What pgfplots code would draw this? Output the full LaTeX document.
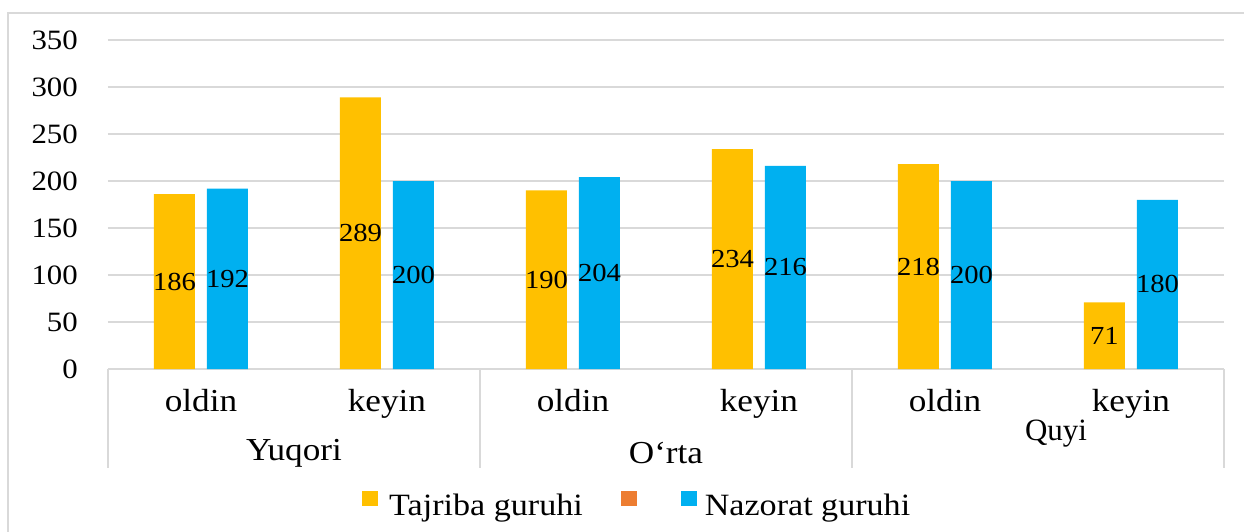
\documentclass[border=0pt]{standalone}
\usepackage{fontspec}
\setmainfont{Liberation Serif}[FakeStretch=1.1]
\newfontfamily\plainserif{Liberation Serif}
\usepackage{pgfplots}
\pgfplotsset{compat=1.18}
\usepackage{pgfplotstable}
\definecolor{cyel}{HTML}{FFC000}
\definecolor{cblue}{HTML}{00B0F0}
\definecolor{corange}{HTML}{ED7D31}
\definecolor{cgrid}{HTML}{D9D9D9}
\pgfplotsset{sqlegend/.style={legend image code/.code={\fill[##1,/tikz/.cd] (0pt,0pt) rectangle (16pt,15pt);}}}

\pgfplotstableread{
x t n
0 186 192
1 289 200
2 190 204
3 234 216
4 218 200
5 71 180
}\data

\begin{document}
\begin{tikzpicture}
\path[use as bounding box] (-108pt,-162pt) rectangle (1136pt,369pt);
\draw[cgrid, line width=1.6pt] (-100pt,-170pt) -- (-100pt,356pt) -- (1140pt,356pt);
\begin{axis}[
  at={(0,0)}, anchor=south west,
  scale only axis, width=1116pt, height=329pt,
  xmin=-0.5, xmax=5.5, ymin=0, ymax=350,
  ytick={0,50,...,350},
  xtick={0,...,5},
  xticklabels={oldin,keyin,oldin,keyin,oldin,keyin},
  major tick length=0pt,
  axis line style={draw=none},
  ymajorgrids,
  grid style={cgrid, line width=1.5pt},
  clip=false,
  /pgf/number format/assume math mode=true,
  yticklabel style={anchor=east, inner sep=0pt, xshift=-30pt, font=\fontsize{28}{31}\selectfont},
  xticklabel style={anchor=base, inner sep=0pt, yshift=-42pt, font=\fontsize{32}{36}\selectfont},
  legend style={draw=none, fill=none, legend columns=3,
    at={(0.2276,-0.41)}, anchor=west, inner sep=0pt,
    nodes={inner sep=0pt, font=\fontsize{31}{34}\selectfont},
    /tikz/column 1/.style={column sep=11pt},
    /tikz/column 2/.style={column sep=38pt},
    /tikz/column 3/.style={column sep=11pt},
    /tikz/column 4/.style={column sep=32pt},
    /tikz/column 5/.style={column sep=8pt}},
]
\addplot[ybar, fill=cyel, draw=none, bar width=41pt, bar shift=-26.5pt, sqlegend] table[x=x,y=t]{\data};
\addlegendentry{Tajriba guruhi}
\addlegendimage{sqlegend, fill=corange, draw=none}
\addlegendentry{\mbox{}}
\addplot[ybar, fill=cblue, draw=none, bar width=41pt, bar shift=26.5pt, sqlegend] table[x=x,y=n]{\data};
\addlegendentry{Nazorat guruhi}

\addplot[draw=none, mark=none, forget plot, nodes near coords, point meta=explicit symbolic,
  nodes near coords style={anchor=center, inner sep=0pt, xshift=-26.5pt, font=\fontsize{26}{29}\selectfont}]
  table[x=x, y expr=\thisrow{t}/2, meta=t]{\data};
\addplot[draw=none, mark=none, forget plot, nodes near coords, point meta=explicit symbolic,
  nodes near coords style={anchor=center, inner sep=0pt, xshift=26.5pt, font=\fontsize{26}{29}\selectfont}]
  table[x=x, y expr=\thisrow{n}/2, meta=n]{\data};

\draw[cgrid, line width=1.5pt] (axis cs:-0.5,0) -- ++(0pt,-99pt);
\draw[cgrid, line width=1.5pt] (axis cs:1.5,0) -- ++(0pt,-99pt);
\draw[cgrid, line width=1.5pt] (axis cs:3.5,0) -- ++(0pt,-99pt);
\draw[cgrid, line width=1.5pt] (axis cs:5.5,0) -- ++(0pt,-99pt);
\node[anchor=base, font=\fontsize{32}{36}\selectfont] at (axis cs:0.5,0) [yshift=-91pt] {Yuqori};
\node[anchor=base, font=\fontsize{32}{36}\selectfont] at (axis cs:2.5,0) [yshift=-94pt] {O‘rta};
\node[anchor=base, font=\plainserif\fontsize{31}{34}\selectfont] at (axis cs:4.597,0) [yshift=-71pt] {Quyi};
\end{axis}
\end{tikzpicture}
\end{document}
